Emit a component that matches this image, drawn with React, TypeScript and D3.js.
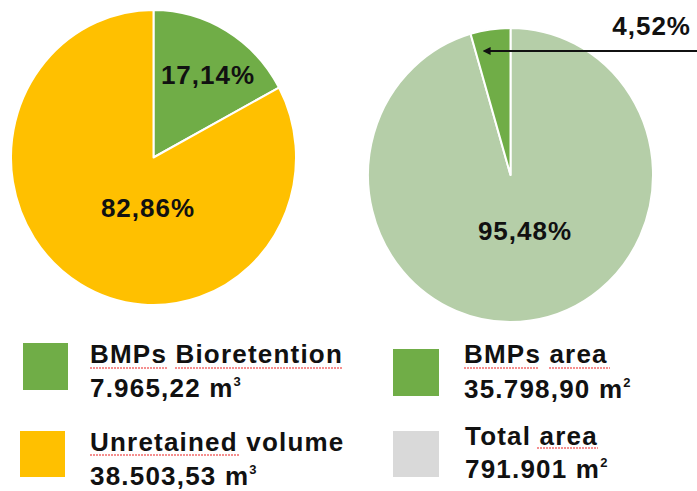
import React from "react";
import * as d3 from "d3";

// Retained volume split (percent of total runoff volume)
const volumeCategories = ["BMPs Bioretention", "Unretained volume"];
const volumeShares = [17.14, 82.86];
const volumeAmounts = ["7.965,22", "38.503,53"];
const volumeUnitSup = "3";
const volumeColors = ["#70AD47", "#FFC000"];

// Area split, drawn clockwise from 12 o'clock: remaining area first, BMPs area last
const areaCategories = ["Total area", "BMPs area"];
const areaShares = [95.48, 4.52];
const areaColors = ["#B5CEA8", "#70AD47"];

// Legend entries for the area chart
const areaLegendNames = ["BMPs area", "Total area"];
const areaLegendAmounts = ["35.798,90", "791.901"];
const areaLegendColors = ["#70AD47", "#D9D9D9"];
const areaUnitSup = "2";

const fmtPct = (v: number) => d3.format(".2f")(v).replace(".", ",") + "%";

const FONT = "'Liberation Sans', Arial, sans-serif";

type PieProps = {
  cx: number;
  cy: number;
  r: number;
  stretch: number;
  shares: number[];
  colors: string[];
  names: string[];
};

function Pie({ cx, cy, r, stretch, shares, colors, names }: PieProps) {
  const pie = d3.pie<number>().sort(null).value((d) => d);
  const arc = d3.arc<d3.PieArcDatum<number>>().innerRadius(0).outerRadius(r);
  const arcs = pie(shares);
  return (
    <g transform={`translate(${cx},${cy}) scale(1,${stretch})`}>
      {arcs.map((a, i) => (
        <path
          key={names[i]}
          d={arc(a) || ""}
          fill={colors[i]}
          stroke="#fff"
          strokeWidth={2}
          strokeLinejoin="round"
        />
      ))}
    </g>
  );
}

function Squiggle({ x1, x2, y }: { x1: number; x2: number; y: number }) {
  return <line x1={x1} x2={x2} y1={y} y2={y} stroke="#F26B6B" strokeWidth={1.5} strokeDasharray="2 1" />;
}

const labelStyle: React.CSSProperties = {
  fontFamily: FONT,
  fontWeight: 700,
  fontSize: 26,
  letterSpacing: 1,
  fill: "#111",
};

const legendStyle: React.CSSProperties = {
  fontFamily: FONT,
  fontWeight: 700,
  fontSize: 26,
  letterSpacing: 1.2,
  fill: "#111",
};

export default function App() {
  const W = 697;
  const H = 491;

  // pie geometry
  const left = { cx: 153.5, cy: 157.5, r: 142.5, stretch: 1.035 };
  const right = { cx: 510.5, cy: 175, r: 142.5, stretch: 1.032 };

  // callout leader for the thin BMPs-area wedge
  const calloutY = 51;
  const calloutTipX = 489;

  return (
    <svg
      width={W}
      height={H}
      viewBox={`0 0 ${W} ${H}`}
      style={{ position: "absolute", left: 0, top: 0, background: "#fff" }}
    >
      <defs>
        <marker
          id="arrowHead"
          viewBox="0 0 10 10"
          refX="2"
          refY="5"
          markerWidth="4"
          markerHeight="4"
          orient="auto-start-reverse"
        >
          <path d="M0,0 L10,5 L0,10 z" fill="#111" />
        </marker>
      </defs>

      <Pie {...left} shares={volumeShares} colors={volumeColors} names={volumeCategories} />
      <Pie {...right} shares={areaShares} colors={areaColors} names={areaCategories} />

      {/* volume pie labels */}
      <text x={208} y={84} textAnchor="middle" style={labelStyle}>
        {fmtPct(volumeShares[0])}
      </text>
      <text x={148} y={217} textAnchor="middle" style={labelStyle}>
        {fmtPct(volumeShares[1])}
      </text>

      {/* area pie labels */}
      <text x={525} y={240} textAnchor="middle" style={labelStyle}>
        {fmtPct(areaShares[0])}
      </text>
      <text x={691} y={35} textAnchor="end" style={labelStyle}>
        {fmtPct(areaShares[1])}
      </text>
      <line
        x1={W + 2}
        y1={calloutY}
        x2={calloutTipX}
        y2={calloutY}
        stroke="#111"
        strokeWidth={2}
        markerEnd="url(#arrowHead)"
      />

      {/* legend: volumes */}
      <rect x={23} y={343} width={45} height={47} fill={volumeColors[0]} />
      <text x={90} y={363} style={legendStyle}>{volumeCategories[0]}</text>
      <Squiggle x1={90} x2={168} y={368} />
      <Squiggle x1={175} x2={342} y={368} />
      <text x={90} y={397} style={legendStyle}>
        {volumeAmounts[0]} m<tspan fontSize={13} dy={-11}>{volumeUnitSup}</tspan>
      </text>

      <rect x={20} y={431} width={45} height={46} fill={volumeColors[1]} />
      <text x={90} y={451} style={legendStyle}>{volumeCategories[1]}</text>
      <Squiggle x1={90} x2={240} y={455} />
      <text x={90} y={485} style={legendStyle}>
        {volumeAmounts[1]} m<tspan fontSize={13} dy={-11}>{volumeUnitSup}</tspan>
      </text>

      {/* legend: areas */}
      <rect x={393} y={349} width={46} height={47} fill={areaLegendColors[0]} />
      <text x={464} y={363} style={legendStyle}>{areaLegendNames[0]}</text>
      <Squiggle x1={464} x2={538} y={368} />
      <Squiggle x1={549} x2={610} y={368} />
      <text x={464} y={398} style={legendStyle}>
        {areaLegendAmounts[0]} m<tspan fontSize={13} dy={-11}>{areaUnitSup}</tspan>
      </text>

      <rect x={393} y={431} width={46} height={46} fill={areaLegendColors[1]} />
      <text x={465} y={445} style={legendStyle}>{areaLegendNames[1]}</text>
      <Squiggle x1={537} x2={598} y={448} />
      <text x={465} y={478} style={legendStyle}>
        {areaLegendAmounts[1]} m<tspan fontSize={13} dy={-11}>{areaUnitSup}</tspan>
      </text>
    </svg>
  );
}
